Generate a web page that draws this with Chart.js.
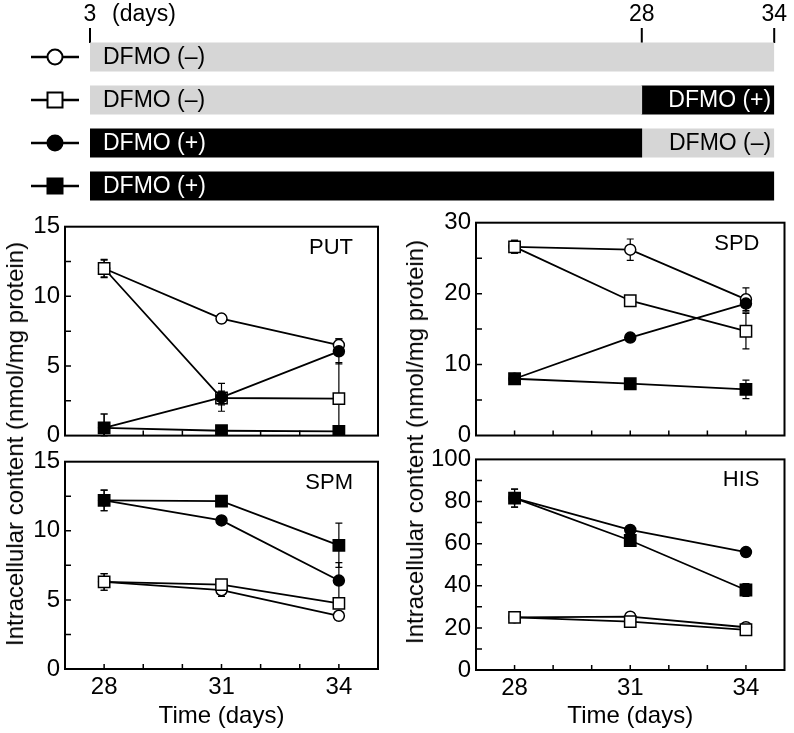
<!DOCTYPE html>
<html>
<head>
<meta charset="utf-8">
<script src="https://cdn.jsdelivr.net/npm/chart.js@4.4.0/dist/chart.umd.min.js"></script>
<style>
  body { margin: 0; background: #fff; }
  #wrap { position: relative; width: 794px; height: 733px; overflow: hidden; font-family: "Liberation Sans", Arial, sans-serif; }
  canvas { position: absolute; }
  .ytitle { position: absolute; font-size: 24px; white-space: nowrap; color: #000;
            transform: translate(-50%, -50%) rotate(-90deg); }
</style>
</head>
<body>
<div id="wrap">
  <canvas id="schema" width="794" height="210" style="left:0;top:0"></canvas>
  <canvas id="put" width="400" height="255" style="left:0;top:200px"></canvas>
  <canvas id="spd" width="394" height="255" style="left:400px;top:200px"></canvas>
  <canvas id="spm" width="400" height="293" style="left:0;top:440px"></canvas>
  <canvas id="his" width="394" height="293" style="left:400px;top:440px"></canvas>
  <div class="ytitle" style="left:15px;top:444px">Intracellular content (nmol/mg protein)</div>
  <div class="ytitle" style="left:415px;top:442px">Intracellular content (nmol/mg protein)</div>
</div>
<script>
// treatment schedule (top diagram)
const phaseDays = [3, 28, 34];
const groupLabels = ['open circle', 'open square', 'filled circle', 'filled square'];
const earlyDFMO = ['–', '–', '+', '+'];
const lateDFMO = ['–', '+', '–', '+'];

// sampling days
const days = [28, 31, 34];

// PUT
const putFilledSquare = [0.55, 0.35, 0.3];
const putFilledSquareErr = [1.0, 0.1, 0.1];
const putFilledCircle = [0.55, 2.75, 6.05];
const putFilledCircleErr = [1.0, 1.0, 0.9];
const putOpenSquare = [12.0, 2.7, 2.65];
const putOpenSquareErr = [0.65, 0.5, 2.6];
const putOpenCircle = [12.0, 8.4, 6.5];
const putOpenCircleErr = [0.6, 0.3, 0.45];

// SPD
const spdFilledSquare = [8.0, 7.3, 6.5];
const spdFilledSquareErr = [0.3, 0.3, 1.3];
const spdFilledCircle = [8.0, 13.8, 18.6];
const spdFilledCircleErr = [0.3, 0.4, 1.2];
const spdOpenSquare = [26.6, 19.0, 14.7];
const spdOpenSquareErr = [0.9, 0.4, 2.5];
const spdOpenCircle = [26.6, 26.2, 19.2];
const spdOpenCircleErr = [0.9, 1.5, 1.6];

// SPM
const spmFilledSquare = [12.2, 12.15, 8.95];
const spmFilledSquareErr = [0.75, 0.3, 1.6];
const spmFilledCircle = [12.2, 10.75, 6.4];
const spmFilledCircleErr = [0.75, 0.3, 1.3];
const spmOpenSquare = [6.3, 6.1, 4.75];
const spmOpenSquareErr = [0.6, 0.3, 0.3];
const spmOpenCircle = [6.3, 5.7, 3.85];
const spmOpenCircleErr = [0.6, 0.45, 0.25];

// HIS
const hisFilledSquare = [81.6, 61.5, 38.0];
const hisFilledSquareErr = [4.3, 2.0, 3.0];
const hisFilledCircle = [81.6, 66.5, 56.0];
const hisFilledCircleErr = [4.3, 1.5, 1.5];
const hisOpenSquare = [25.0, 23.0, 19.1];
const hisOpenSquareErr = [1.0, 1.0, 1.5];
const hisOpenCircle = [25.0, 25.3, 20.3];
const hisOpenCircleErr = [1.0, 1.0, 1.0];

Chart.defaults.font.family = '"Liberation Sans", Arial, sans-serif';
Chart.defaults.color = '#000';
Chart.defaults.animation = false;

const FONT = '"Liberation Sans", Arial, sans-serif';
const grey = '#d6d6d6';

const markers = {
  'filled square': { pointStyle: 'rect', fill: '#000', radius: 8 },
  'filled circle': { pointStyle: 'circle', fill: '#000', radius: 5.5 },
  'open square': { pointStyle: 'rect', fill: '#fff', radius: 8 },
  'open circle': { pointStyle: 'circle', fill: '#fff', radius: 5.5 }
};

// ---------- schedule diagram ----------
const earlyBars = earlyDFMO.map((s, i) => [phaseDays[0], s === lateDFMO[i] ? phaseDays[2] : phaseDays[1]]);
const lateBars = lateDFMO.map((s, i) => s === earlyDFMO[i] ? null : [phaseDays[1], phaseDays[2]]);
const signColor = s => s === '+' ? '#000' : grey;

const schemaPlugin = {
  id: 'schemaDecor',
  beforeDatasetsDraw(chart) {
    const ctx = chart.ctx, xs = chart.scales.x, top = chart.chartArea.top;
    ctx.save();
    ctx.strokeStyle = '#000';
    ctx.lineWidth = 2;
    xs.ticks.forEach(t => {
      const px = xs.getPixelForValue(t.value);
      ctx.beginPath();
      ctx.moveTo(px, top - 7.5);
      ctx.lineTo(px, top + 7.5);
      ctx.stroke();
    });
    ctx.font = '23px ' + FONT;
    ctx.fillStyle = '#000';
    ctx.textAlign = 'left';
    ctx.textBaseline = 'middle';
    ctx.fillText('(days)', xs.getPixelForValue(phaseDays[0]) + 22, 15);
    ctx.restore();
  },
  afterDatasetsDraw(chart) {
    const ctx = chart.ctx, ys = chart.scales.y;
    ctx.save();
    ctx.font = '23px ' + FONT;
    ctx.textBaseline = 'middle';
    chart.data.datasets.forEach((ds, di) => {
      chart.getDatasetMeta(di).data.forEach((bar, i) => {
        if (!ds.data[i]) return;
        const sign = ds.signs[i];
        const left = Math.min(bar.x, bar.base), right = Math.max(bar.x, bar.base);
        ctx.fillStyle = sign === '+' ? '#fff' : '#000';
        const txt = 'DFMO (' + sign + ')';
        if (di === 0) { ctx.textAlign = 'left'; ctx.fillText(txt, left + 13, bar.y + 1); }
        else { ctx.textAlign = 'right'; ctx.fillText(txt, right - 3, bar.y + 1); }
      });
    });
    // group symbols at the left
    groupLabels.forEach((g, i) => {
      const y = ys.getPixelForValue(i);
      const m = markers[g];
      ctx.strokeStyle = '#000';
      ctx.lineWidth = 2.5;
      ctx.beginPath();
      ctx.moveTo(31, y);
      ctx.lineTo(79, y);
      ctx.stroke();
      ctx.fillStyle = m.fill;
      ctx.lineWidth = 2;
      ctx.beginPath();
      if (m.pointStyle === 'circle') ctx.arc(55, y, 7.5, 0, Math.PI * 2);
      else ctx.rect(47.5, y - 7.5, 15, 15);
      ctx.fill();
      ctx.stroke();
    });
    ctx.restore();
  }
};

new Chart(document.getElementById('schema'), {
  type: 'bar',
  data: {
    labels: groupLabels,
    datasets: [
      { data: earlyBars, signs: earlyDFMO, backgroundColor: earlyDFMO.map(signColor), barThickness: 28.5, grouped: false },
      { data: lateBars, signs: lateDFMO, backgroundColor: lateDFMO.map(signColor), barThickness: 28.5, grouped: false }
    ]
  },
  options: {
    indexAxis: 'y',
    responsive: false,
    devicePixelRatio: 1,
    layout: { padding: { left: 90, right: 15, top: 0, bottom: 2.5 } },
    plugins: { legend: { display: false }, tooltip: { enabled: false } },
    scales: {
      x: {
        type: 'linear', position: 'top', min: phaseDays[0], max: phaseDays[2],
        grid: { display: false, drawTicks: false }, border: { display: false },
        afterBuildTicks: s => { s.ticks = phaseDays.map(v => ({ value: v })); },
        ticks: { autoSkip: false, maxRotation: 0, padding: 7, font: { size: 23 } },
        afterFit: s => { s.height = 35.5; }
      },
      y: { display: false }
    }
  },
  plugins: [schemaPlugin]
});

// ---------- panels ----------
const errorBars = {
  id: 'errorBars',
  beforeDatasetsDraw(chart) {
    const ctx = chart.ctx, ys = chart.scales.y;
    ctx.save();
    ctx.strokeStyle = '#000';
    ctx.lineWidth = 1.2;
    chart.data.datasets.forEach((ds, di) => {
      chart.getDatasetMeta(di).data.forEach((pt, i) => {
        const e = ds.errors[i];
        if (!e) return;
        const v = ds.data[i].y;
        const y1 = ys.getPixelForValue(v + e), y2 = ys.getPixelForValue(Math.max(0, v - e));
        ctx.beginPath();
        ctx.moveTo(pt.x, y1); ctx.lineTo(pt.x, y2);
        ctx.moveTo(pt.x - 3.5, y1); ctx.lineTo(pt.x + 3.5, y1);
        ctx.moveTo(pt.x - 3.5, y2); ctx.lineTo(pt.x + 3.5, y2);
        ctx.stroke();
      });
    });
    ctx.restore();
  }
};

function framePlugin(name) {
  return {
    id: 'frame',
    afterDraw(chart) {
      const ctx = chart.ctx, a = chart.chartArea, xs = chart.scales.x, ys = chart.scales.y;
      ctx.save();
      ctx.strokeStyle = '#000';
      ctx.lineWidth = 2;
      ctx.strokeRect(a.left, a.top, a.right - a.left, a.bottom - a.top);
      ctx.lineWidth = 1.5;
      ctx.beginPath();
      xs.ticks.forEach(t => {
        if (t.value <= xs.min || t.value >= xs.max) return;
        const px = xs.getPixelForValue(t.value);
        ctx.moveTo(px, a.bottom); ctx.lineTo(px, a.bottom - 5);
      });
      ys.ticks.forEach(t => {
        if (t.value <= ys.min || t.value >= ys.max) return;
        const py = ys.getPixelForValue(t.value);
        ctx.moveTo(a.left, py); ctx.lineTo(a.left + 6, py);
      });
      ctx.stroke();
      ctx.font = '22px ' + FONT;
      ctx.fillStyle = '#000';
      ctx.textAlign = 'right';
      ctx.textBaseline = 'middle';
      ctx.fillText(name, a.right - 25, a.top + 21);
      ctx.restore();
    }
  };
}

function makePanel(id, name, series, o) {
  new Chart(document.getElementById(id), {
    type: 'line',
    data: {
      datasets: series.map(s => ({
        label: s.style,
        data: days.map((d, i) => ({ x: d, y: s.values[i] })),
        errors: s.errors,
        borderColor: '#000',
        borderWidth: 1.8,
        pointStyle: markers[s.style].pointStyle,
        pointRadius: markers[s.style].radius,
        pointBackgroundColor: markers[s.style].fill,
        pointBorderColor: '#000',
        pointBorderWidth: 1.5,
        tension: 0,
        fill: false
      }))
    },
    options: {
      responsive: false,
      devicePixelRatio: 1,
      layout: { padding: { top: o.padTop, right: o.padRight, left: 0, bottom: 0 } },
      plugins: { legend: { display: false }, tooltip: { enabled: false } },
      scales: {
        x: {
          type: 'linear', min: 27, max: 35,
          grid: { display: false, drawTicks: false }, border: { display: false },
          ticks: {
            display: o.showX, stepSize: 1, autoSkip: false, maxRotation: 0, padding: 4,
            font: { size: 24 }, callback: v => days.includes(v) ? String(v) : ''
          },
          title: { display: o.showX, text: 'Time (days)', font: { size: 24 }, padding: { top: 0, bottom: 2 } },
          afterFit: s => { s.height = o.xHeight; }
        },
        y: {
          min: 0, max: o.yMax,
          grid: { display: false, drawTicks: false }, border: { display: false },
          ticks: {
            stepSize: o.yStep, autoSkip: false, padding: 5, font: { size: 24 },
            callback: v => v % o.yLabelStep === 0 ? String(v) : ''
          },
          afterFit: s => { s.width = o.yWidth; }
        }
      }
    },
    plugins: [errorBars, framePlugin(name)]
  });
}

makePanel('put', 'PUT', [
  { style: 'filled square', values: putFilledSquare, errors: putFilledSquareErr },
  { style: 'filled circle', values: putFilledCircle, errors: putFilledCircleErr },
  { style: 'open square', values: putOpenSquare, errors: putOpenSquareErr },
  { style: 'open circle', values: putOpenCircle, errors: putOpenCircleErr }
], { padTop: 26.7, padRight: 22, xHeight: 18.5, yWidth: 65, yMax: 15, yStep: 2.5, yLabelStep: 5, showX: false });

makePanel('spd', 'SPD', [
  { style: 'filled square', values: spdFilledSquare, errors: spdFilledSquareErr },
  { style: 'filled circle', values: spdFilledCircle, errors: spdFilledCircleErr },
  { style: 'open square', values: spdOpenSquare, errors: spdOpenSquareErr },
  { style: 'open circle', values: spdOpenCircle, errors: spdOpenCircleErr }
], { padTop: 22.7, padRight: 8, xHeight: 19.5, yWidth: 76, yMax: 30, yStep: 5, yLabelStep: 10, showX: false });

makePanel('spm', 'SPM', [
  { style: 'filled square', values: spmFilledSquare, errors: spmFilledSquareErr },
  { style: 'filled circle', values: spmFilledCircle, errors: spmFilledCircleErr },
  { style: 'open square', values: spmOpenSquare, errors: spmOpenSquareErr },
  { style: 'open circle', values: spmOpenCircle, errors: spmOpenCircleErr }
], { padTop: 21.7, padRight: 22, xHeight: 64, yWidth: 65, yMax: 15, yStep: 2.5, yLabelStep: 5, showX: true });

makePanel('his', 'HIS', [
  { style: 'filled square', values: hisFilledSquare, errors: hisFilledSquareErr },
  { style: 'filled circle', values: hisFilledCircle, errors: hisFilledCircleErr },
  { style: 'open square', values: hisOpenSquare, errors: hisOpenSquareErr },
  { style: 'open circle', values: hisOpenCircle, errors: hisOpenCircleErr }
], { padTop: 17.5, padRight: 8, xHeight: 63, yWidth: 76, yMax: 100, yStep: 10, yLabelStep: 20, showX: true });
</script>
</body>
</html>
